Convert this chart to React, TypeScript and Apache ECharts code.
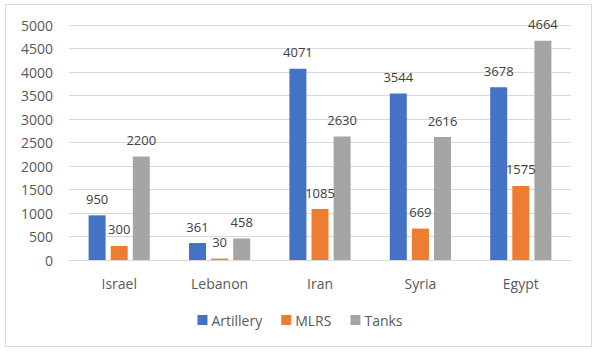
import React, { useEffect, useRef } from "react";
import * as echarts from "echarts";

const categories = ["Israel", "Lebanon", "Iran", "Syria", "Egypt"];
const artillery = [950, 361, 4071, 3544, 3678];
const mlrs = [300, 30, 1085, 669, 1575];
const tanks = [2200, 458, 2630, 2616, 4664];
const seriesNames = ["Artillery", "MLRS", "Tanks"];
const colors = ["#4472C4", "#ED7D31", "#A5A5A5"];

const FONT = "Open Sans";

export default function App() {
  const ref = useRef<HTMLDivElement>(null);
  useEffect(() => {
    if (!ref.current) return;
    const chart = echarts.init(ref.current, null, { renderer: "svg" });
    const data = [artillery, mlrs, tanks];
    chart.setOption({
      animation: false,
      backgroundColor: "#ffffff",
      textStyle: { fontFamily: FONT },
      graphic: [
        {
          type: "rect",
          shape: { x: 5.5, y: 4.5, width: 586, height: 342 },
          style: { fill: "none", stroke: "#d9d9d9", lineWidth: 1 },
          silent: true,
        },
      ],
      grid: { left: 69, right: 29, top: 25, bottom: 94, containLabel: false },
      legend: {
        data: seriesNames,
        top: 313,
        left: "center",
        padding: 0,
        itemWidth: 10,
        itemHeight: 10,
        itemGap: 19,
        icon: "rect",
        textStyle: { fontFamily: FONT, fontSize: 14, color: "#595959", padding: [0, 0, 0, -1] },
      },
      xAxis: {
        type: "category",
        data: categories,
        axisLine: { show: true, lineStyle: { color: "#d9d9d9", width: 1 } },
        axisTick: { show: false },
        axisLabel: { fontFamily: FONT, fontSize: 14, color: "#595959", margin: 16 },
      },
      yAxis: {
        type: "value",
        min: 0,
        max: 5000,
        interval: 500,
        axisLine: { show: false },
        axisTick: { show: false },
        splitLine: { lineStyle: { color: "#d9d9d9", width: 1 } },
        axisLabel: {
          fontFamily: FONT,
          fontSize: 14,
          color: "#595959",
          margin: 16,
          formatter: (v: number) => String(v),
        },
      },
      series: seriesNames.map((name, i) => ({
        name,
        type: "bar",
        data: data[i],
        barWidth: 17,
        barGap: "30%",
        itemStyle: { color: colors[i] },
        label: {
          show: true,
          position: "top",
          distance: 10,
          fontFamily: FONT,
          fontSize: 13,
          color: "#404040",
        },
      })),
    });
    return () => chart.dispose();
  }, []);
  return (
    <div
      ref={ref}
      style={{ position: "fixed", left: 0, top: 0, width: 600, height: 354 }}
    />
  );
}
